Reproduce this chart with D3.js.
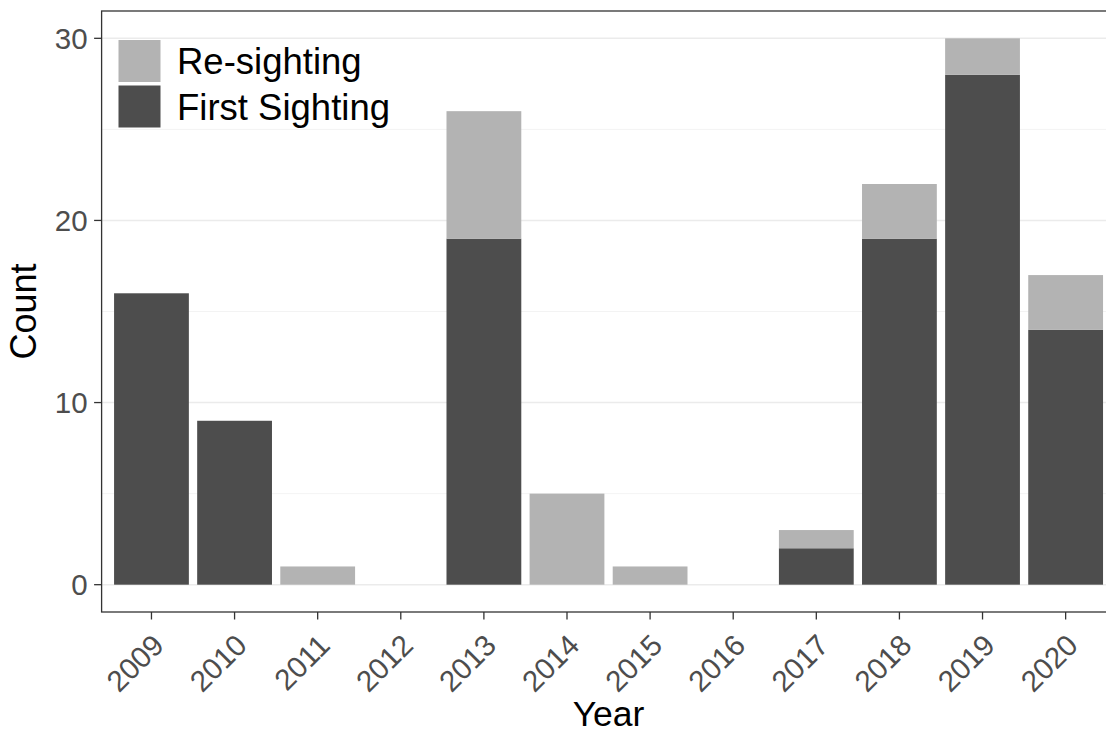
<!DOCTYPE html>
<html><head><meta charset="utf-8">
<script src="https://cdn.jsdelivr.net/npm/d3@7"></script>
<style>body{margin:0;background:#fff}svg{display:block}text{font-family:"Liberation Sans",Arial,sans-serif}</style>
</head><body><svg id="c" width="1106" height="732"></svg>
<script>
const years = ["2009","2010","2011","2012","2013","2014","2015","2016","2017","2018","2019","2020"];
const firstSighting = [16,9,0,0,19,0,0,0,2,19,28,14];
const reSighting = [0,0,1,0,7,5,1,0,1,3,2,3];
const seriesNames = ["First Sighting","Re-sighting"];
const seriesColors = ["#4D4D4D","#B3B3B3"];
const yTicks = [0,10,20,30];
const yMinor = [5,15,25];

const svg = d3.select("#c");
const panel = {left:101.6, right:1115.5, top:11, bottom:612};

// ggplot-style discrete scale: expand 0.6 units, bar width 0.9
const x = d3.scalePoint().domain(years)
  .range([panel.left, panel.right]).padding(0.6);
const step = x.step();
const xc = d => x(d);
const bw = step*0.9;

const y = d3.scaleLinear().domain([-1.5,31.5]).range([panel.bottom, panel.top]);

const g = svg.append("g");
g.selectAll(".minor").data(yMinor).enter().append("line")
  .attr("x1",panel.left).attr("x2",panel.right)
  .attr("y1",d=>y(d)).attr("y2",d=>y(d))
  .attr("stroke","#F2F2F2").attr("stroke-width",0.9);
g.selectAll(".major").data(yTicks).enter().append("line")
  .attr("x1",panel.left).attr("x2",panel.right)
  .attr("y1",d=>y(d)).attr("y2",d=>y(d))
  .attr("stroke","#EBEBEB").attr("stroke-width",1.6);

const rows = years.map((yr,i)=>({year:yr, "First Sighting":firstSighting[i], "Re-sighting":reSighting[i]}));
const stack = d3.stack().keys(seriesNames)(rows);
g.selectAll(".layer").data(stack).enter().append("g")
  .attr("fill",(d,i)=>seriesColors[i])
  .selectAll("rect").data(d=>d.filter(p=>p[1]-p[0]>0)).enter().append("rect")
  .attr("x",d=>xc(d.data.year)-bw/2).attr("width",bw)
  .attr("y",d=>y(d[1])).attr("height",d=>y(d[0])-y(d[1]));

svg.append("rect").attr("x",panel.left).attr("y",panel.top)
  .attr("width",panel.right-panel.left).attr("height",panel.bottom-panel.top)
  .attr("fill","none").attr("stroke","#333333").attr("stroke-width",1.3);

const ya = svg.append("g");
ya.selectAll("line").data(yTicks).enter().append("line")
  .attr("x1",panel.left-7.5).attr("x2",panel.left).attr("y1",d=>y(d)).attr("y2",d=>y(d))
  .attr("stroke","#333333").attr("stroke-width",1.3);
ya.selectAll("text").data(yTicks).enter().append("text")
  .attr("x",panel.left-14).attr("y",d=>y(d)).attr("dy","0.36em")
  .attr("text-anchor","end").attr("font-size",29.5).attr("fill","#4D4D4D").text(d=>d);

const xa = svg.append("g");
xa.selectAll("line").data(years).enter().append("line")
  .attr("x1",d=>xc(d)).attr("x2",d=>xc(d)).attr("y1",panel.bottom).attr("y2",panel.bottom+7.5)
  .attr("stroke","#333333").attr("stroke-width",1.3);
xa.selectAll("text").data(years).enter().append("text")
  .attr("transform",d=>`translate(${xc(d)-1},${panel.bottom+20}) rotate(-45)`)
  .attr("text-anchor","end").attr("dy","0.72em")
  .attr("font-size",29.5).attr("fill","#4D4D4D").text(d=>d);

svg.append("text").attr("x",(panel.left+panel.right)/2).attr("y",726)
  .attr("text-anchor","middle").attr("font-size",35.5).attr("fill","#000").text("Year");
svg.append("text").attr("transform",`translate(36,${(panel.top+panel.bottom)/2}) rotate(-90)`)
  .attr("text-anchor","middle").attr("font-size",36).attr("fill","#000").text("Count");

const legendItems = [{name:"Re-sighting",color:seriesColors[1]},{name:"First Sighting",color:seriesColors[0]}];
const lg = svg.append("g");
legendItems.forEach((d,i)=>{
  const ky = 40 + i*45.5;
  lg.append("rect").attr("x",118.5).attr("y",ky).attr("width",42).attr("height",42).attr("fill",d.color);
  lg.append("text").attr("x",177).attr("y",ky+21).attr("dy","0.36em")
    .attr("font-size",36.5).attr("fill","#000").text(d.name);
});
</script></body></html>
